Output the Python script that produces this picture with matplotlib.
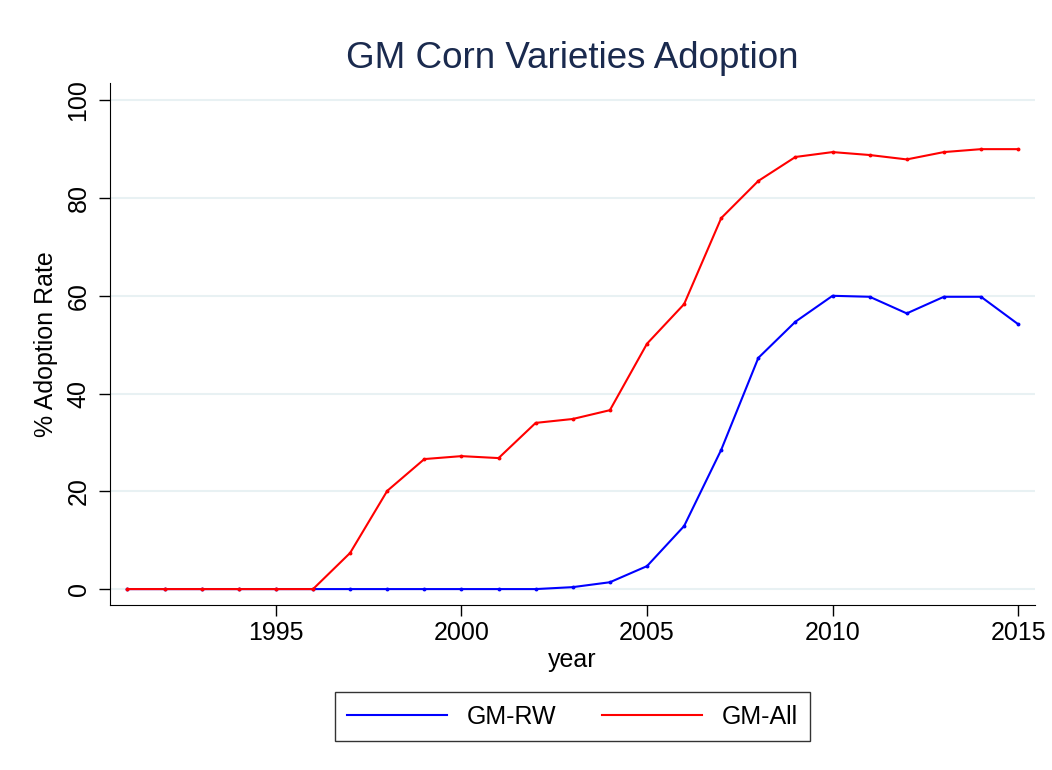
import matplotlib.pyplot as plt

years = list(range(1991, 2016))
gm_rw = [0, 0, 0, 0, 0, 0, 0, 0, 0, 0, 0, 0, 0.4, 1.4, 4.7,
         12.9, 28.5, 47.3, 54.7, 60.0, 59.8, 56.4, 59.8, 59.8, 54.2]
gm_all = [0, 0, 0, 0, 0, 0, 7.4, 20.1, 26.6, 27.2, 26.8, 34.0, 34.8, 36.6, 50.2,
          58.3, 75.9, 83.5, 88.4, 89.4, 88.8, 87.9, 89.4, 90.0, 90.0]
yticks = [0, 20, 40, 60, 80, 100]
xticks = [1995, 2000, 2005, 2010, 2015]

plt.rcParams['font.family'] = ['Liberation Sans', 'DejaVu Sans']

fig = plt.figure(figsize=(10.52, 7.70), dpi=100)
ax = fig.add_axes([0.1046, 0.214, 0.8794, 0.678])

ax.plot(years, gm_rw, color='#0000ff', lw=1.5, marker='o', ms=1.8, label='GM-RW')
ax.plot(years, gm_all, color='#ff0000', lw=1.5, marker='o', ms=1.8, label='GM-All')

ax.set_xlim(1990.53, 2015.46)
ax.set_ylim(-3.3, 103.5)
ax.set_yticks(yticks)
ax.set_xticks(xticks)
ax.grid(axis='y', color='#e8f1f3', lw=1.5)
ax.set_axisbelow(True)
for s in ['top', 'right']:
    ax.spines[s].set_visible(False)
ax.tick_params(axis='both', labelsize=18, length=8, width=1)
ax.tick_params(axis='y', pad=6)
plt.setp(ax.get_yticklabels(), rotation=90, va='center')

ax.set_xlabel('year', fontsize=18, labelpad=2)
ax.set_ylabel('% Adoption Rate', fontsize=18, labelpad=6)
ax.set_title('GM Corn Varieties Adoption', fontsize=26.5, color='#1a2a4e', pad=11)

leg = ax.legend(loc='upper center', bbox_to_anchor=(0.5, -0.143), ncol=2, fontsize=18,
                frameon=True, fancybox=False, edgecolor='black', handlelength=4,
                handletextpad=0.8, columnspacing=1.8, borderpad=0.5)
leg.get_frame().set_linewidth(1)
for h in leg.legend_handles:
    h.set_marker('')

plt.savefig('out.png', dpi=100)
plt.close()
